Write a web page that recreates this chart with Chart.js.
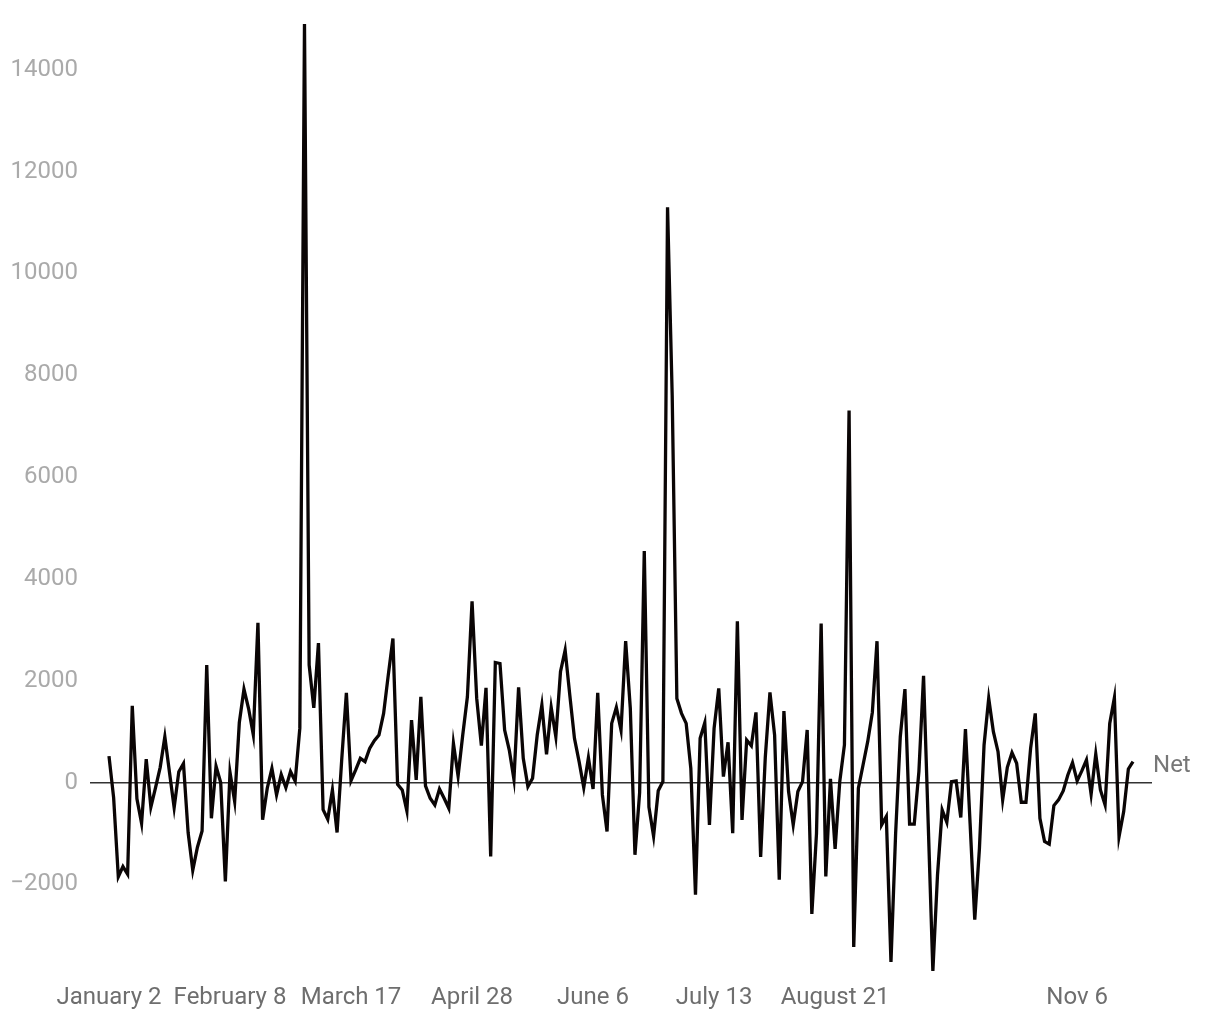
<!DOCTYPE html>
<html lang="en">
<head>
<meta charset="UTF-8">
<title>Net</title>
<script src="https://cdn.jsdelivr.net/npm/chart.js@4.4.0/dist/chart.umd.min.js"></script>
<style>
    html, body { margin: 0; padding: 0; background: #fff; }
    #wrap { width: 1220px; height: 1020px; }
</style>
</head>
<body>
<div id="wrap"><canvas id="netChart"></canvas></div>
<script>
// tick labels shown every 26 trading days (the 8th one is left blank as in the original)
const tickLabels = ['January 2', 'February 8', 'March 17', 'April 28', 'June 6', 'July 13', 'August 21', '', 'Nov 6'];
const tickEvery = 26;

const seriesName = 'Net';
const netValues = [
    520, -300, -1850, -1650, -1800, 1510, -320, -800, 460, -480,
    -100, 300, 900, 200, -490, 215, 375, -980, -1720, -1270,
    -950, 2310, -700, 320, 0, -1940, 200, -370, 1180, 1835,
    1450, 940, 3140, -730, -110, 280, -240, 160, -100, 215,
    30, 1070, 14900, 2310, 1470, 2740, -530, -720, -145, -980,
    450, 1765, 40, 250, 477, 412, 673, 823, 935, 1360,
    2111, 2830, -33, -144, -556, 1229, 52, 1686, -65, -307,
    -438, -124, -307, -503, 771, 131, 935, 1686, 3560, 1654,
    725, 1863, -1451, 2360, 2340, 1033, 640, 65, 1869, 477,
    -78, 85, 935, 1523, 556, 1477, 902, 2177, 2601, 1719,
    869, 412, -98, 490, -124, 1765, -242, -961, 1163, 1477,
    1033, 2778, 1457, -1418, -200, 4550, -480, -1050, -160, 20,
    11300, 7600, 1650, 1360, 1163, 281, -2200, 869, 1176, -830,
    1065, 1850, 118, 791, -993, 3170, -732, 837, 725, 1379,
    -1460, 500, 1771, 935, -1908, 1405, -176, -830, -176, 20,
    1033, -2580, -1000, 3124, -1843, 72, -1300, 20, 739, 7310,
    -3230, -111, 346, 804, 1379, 2778, -830, -667, -3523, -1000,
    900, 1837, -817, -817, 216, 2098, -800, -3700, -1810, -536,
    -778, 20, 33, -686, 1052, -800, -2693, -1300, 739, 1654,
    1000, 608, -340, 300, 588, 379, -386, -386, 673, 1360,
    -700, -1157, -1209, -451, -340, -163, 150, 392, 33, 229,
    444, -229, 562, -144, -438, 1163, 1667, -1059, -569, 268,
    412
];

const yTicks = [-2000, 0, 2000, 4000, 6000, 8000, 10000, 12000, 14000];

// category labels, one per trading day
const categories = netValues.map((v, i) => (i % tickEvery === 0 ? (tickLabels[i / tickEvery] || '') : ''));

const seriesLabel = {
    id: 'seriesLabel',
    afterDatasetsDraw(chart) {
        const meta = chart.getDatasetMeta(0);
        const last = meta.data[meta.data.length - 1];
        const ctx = chart.ctx;
        ctx.save();
        ctx.font = '24px Roboto';
        ctx.fillStyle = '#777777';
        ctx.textAlign = 'left';
        ctx.textBaseline = 'middle';
        ctx.fillText(seriesName, last.x + 20, last.y + 4);
        ctx.restore();
    }
};

new Chart(document.getElementById('netChart'), {
    type: 'line',
    data: {
        labels: categories,
        datasets: [{
            label: seriesName,
            data: netValues.map((v, i) => ({ x: i, y: v })),
            borderColor: '#0a0505',
            borderWidth: 3.3,
            pointRadius: 0,
            tension: 0,
            fill: false
        }]
    },
    options: {
        responsive: true,
        maintainAspectRatio: false,
        animation: false,
        layout: { padding: { top: 23, right: 68, left: 0, bottom: 0 } },
        plugins: {
            legend: { display: false },
            tooltip: { enabled: false }
        },
        scales: {
            x: {
                type: 'linear',
                min: -4.08,
                max: 220 + 4.08,
                grid: { display: false, drawTicks: false },
                border: { display: false },
                afterBuildTicks: (scale) => {
                    scale.ticks = tickLabels.map((t, k) => ({ value: k * tickEvery }));
                },
                afterFit: (scale) => { scale.height = 48; },
                ticks: {
                    autoSkip: false,
                    maxRotation: 0,
                    padding: 12,
                    color: '#6e6e6e',
                    font: { family: 'Roboto', size: 24 },
                    callback: (value) => categories[value]
                }
            },
            y: {
                min: -3720,
                max: 14920,
                grid: {
                    drawTicks: false,
                    lineWidth: 1.5,
                    color: (c) => (c.tick && c.tick.value === 0 ? '#333333' : 'rgba(0,0,0,0)')
                },
                border: { display: false },
                afterBuildTicks: (scale) => {
                    scale.ticks = yTicks.map(v => ({ value: v }));
                },
                afterFit: (scale) => {
                    scale.width = 90;
                    scale.paddingTop = 0;
                    scale.paddingBottom = 0;
                },
                ticks: {
                    padding: 12,
                    color: '#aaaaaa',
                    font: { family: 'Roboto', size: 24 },
                    callback: (value) => (value < 0 ? '\u2212' + Math.abs(value) : String(value))
                }
            }
        }
    },
    plugins: [seriesLabel]
});
</script>
</body>
</html>
